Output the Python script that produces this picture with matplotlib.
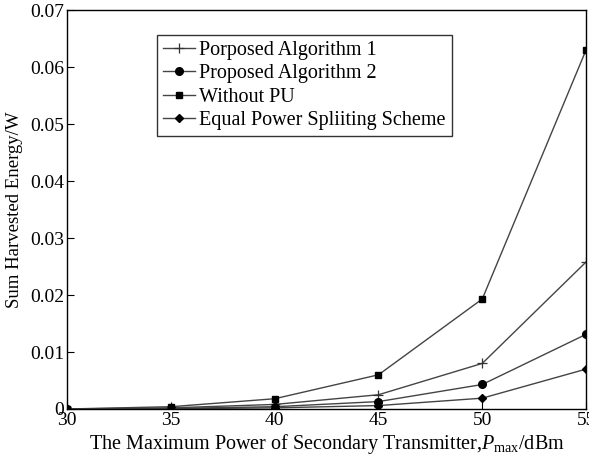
import matplotlib
matplotlib.use("Agg")
import matplotlib.pyplot as plt
from matplotlib.ticker import FixedLocator, FixedFormatter

x = [30, 35, 40, 45, 50, 55]
alg1 = [0.0, 0.0002, 0.0008, 0.0025, 0.0080, 0.0258]
alg2 = [0.0, 0.0001, 0.0004, 0.0013, 0.0043, 0.0131]
without_pu = [0.0, 0.0004, 0.0018, 0.0060, 0.0193, 0.0630]
equal = [0.0, 0.00005, 0.0002, 0.0006, 0.0019, 0.0070]
labels = ["Porposed Algorithm 1", "Proposed Algorithm 2", "Without PU",
          "Equal Power Spliiting Scheme"]
xticks = [30, 35, 40, 45, 50, 55]
yticks = [0, 0.01, 0.02, 0.03, 0.04, 0.05, 0.06, 0.07]
yticklabels = ["0", "0.01", "0.02", "0.03", "0.04", "0.05", "0.06", "0.07"]

plt.rcParams['font.family'] = ['Liberation Serif', 'DejaVu Serif']
plt.rcParams['mathtext.fontset'] = 'custom'
plt.rcParams['mathtext.it'] = 'Liberation Serif:italic'
plt.rcParams['mathtext.rm'] = 'Liberation Serif'

fig = plt.figure(figsize=(5.89, 4.58), dpi=100)
ax = fig.add_axes([0.114, 0.107, 0.881, 0.871])

lc = '#444444'
ax.plot(x, alg1, color=lc, lw=1.0, marker='+', ms=7, mec='#333333', mew=0.9, label=labels[0])
ax.plot(x, alg2, color=lc, lw=1.0, marker='o', ms=5.5, mfc='black', mec='black', label=labels[1])
ax.plot(x, without_pu, color=lc, lw=1.0, marker='s', ms=4.5, mfc='black', mec='black', label=labels[2])
ax.plot(x, equal, color=lc, lw=1.0, marker='D', ms=4.5, mfc='black', mec='black', label=labels[3])

ax.set_xlim(30, 55)
ax.set_ylim(0, 0.07)
ax.xaxis.set_major_locator(FixedLocator(xticks))
ax.yaxis.set_major_locator(FixedLocator(yticks))
ax.yaxis.set_major_formatter(FixedFormatter(yticklabels))
ax.tick_params(direction='in', length=5, labelsize=14, width=0.8, pad=2)
for s in ax.spines.values():
    s.set_linewidth(1.0)
    s.set_color('black')

ax.set_xlabel(r"The Maximum Power of Secondary Transmitter,$P_{\rm max}$/dBm", fontsize=14.5, labelpad=2)
ax.set_ylabel("Sum Harvested Energy/W", fontsize=13.5, labelpad=5)

leg = ax.legend(loc='upper left', bbox_to_anchor=(0.173, 0.937), fontsize=14.5,
                frameon=True, fancybox=False, edgecolor='black', handlelength=1.6,
                handletextpad=0.2, borderpad=0.3, labelspacing=0.2, borderaxespad=0)
leg.get_frame().set_linewidth(1.0)

fig.savefig("out.png", dpi=100)
